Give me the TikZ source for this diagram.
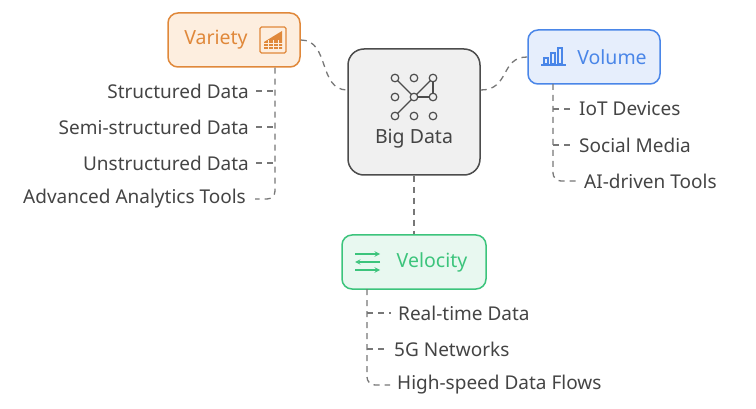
\documentclass[tikz,border=0pt]{standalone}
\usepackage{fontspec}
\setmainfont{Noto Sans}
\usepackage{xcolor}
\definecolor{varfill}{HTML}{FDEEDF}
\definecolor{vardraw}{HTML}{E0883A}
\definecolor{volfill}{HTML}{E6EEFC}
\definecolor{voldraw}{HTML}{4A86E8}
\definecolor{velfill}{HTML}{E8F8F0}
\definecolor{veldraw}{HTML}{3CC47C}
\definecolor{linkgray}{HTML}{777777}
\definecolor{txtgray}{HTML}{444444}

\begin{document}
\begin{tikzpicture}[x=1pt,y=-1pt,
  box/.style={draw,line width=1.5pt,rounded corners=10pt,minimum height=54pt,inner sep=0pt},
  link/.style={draw=linkgray,line width=1.3pt,dash pattern=on 6pt off 5pt},
  item/.style={text=txtgray,font=\fontsize{19}{22}\selectfont,inner sep=1pt}]
\useasboundingbox (0,0) rectangle (756,409);

% boxes
\node[box,fill=varfill,draw=vardraw,minimum width=132pt] (variety) at (234,40) {};
\node[box,fill=black!6,draw=black!70,minimum width=132pt,minimum height=126pt,rounded corners=16pt] (big) at (414,112) {};
\node[box,fill=volfill,draw=voldraw,minimum width=132pt] (volume) at (594,57) {};
\node[box,fill=velfill,draw=veldraw,minimum width=144pt] (velocity) at (414,262) {};

\node[text=vardraw,font=\fontsize{19.5}{22}\selectfont] (varlbl) at (216,40) {Variety};
\node[text=voldraw,font=\fontsize{19.5}{22}\selectfont] (vollbl) at (612,57) {Volume};
\node[text=veldraw,font=\fontsize{19.5}{22}\selectfont] (vellbl) at (432,262) {Velocity};
\node[text=txtgray,font=\fontsize{19.5}{22}\selectfont] (biglbl) at (414,139) {Big Data};

% icons
\begin{scope}[vardraw,line width=1.2pt]
  \draw[rounded corners=1.5pt] (260,27) rectangle (286,53);
  \fill (264,42) -- (282,31) -- (282,49) -- (264,49) -- cycle;
  \foreach \x in {268,273,278} \draw[varfill,line width=0.8pt] (\x,40) -- (\x,50);
  \foreach \y in {43,46} \draw[varfill,line width=0.8pt] (263,\y) -- (283,\y);
\end{scope}
\begin{scope}[voldraw,line width=1.2pt]
  \draw (541,65) -- (566,65);
  \draw (544,64) rectangle (548,58);
  \draw (551,64) rectangle (555,53);
  \draw (558,64) rectangle (562,48);
\end{scope}
\begin{scope}[veldraw,line width=1.4pt,->,>=stealth]
  \draw (355,254) -- (380,254);
  \draw (380,262) -- (355,262);
  \draw (355,270) -- (380,270);
\end{scope}
\begin{scope}[black!70,line width=1.2pt]
  \foreach \x in {395,414,433} \foreach \y in {78,97,116}
    \draw (\x,\y) circle (3.8pt);
  \draw (397.5,80.5) -- (411.5,94.5);
  \draw (397.5,113.5) -- (411.5,99.5);
  \draw (416.5,94.5) -- (430.5,80.5);
  \draw (417.6,97) -- (429.4,97);
  \draw (433,81.6) -- (433,93.4);
\end{scope}

% main links
\draw[link] (variety.east) .. controls (330,40) and (318,90) .. (big.west |- 0,90);
\draw[link] (big.east |- 0,90) .. controls (510,90) and (500,57) .. (volume.west);
\draw[link] (big.south) -- (velocity.north);

% variety items
\node[item,anchor=east] (v1) at (250,91) {Structured Data};
\node[item,anchor=east] (v2) at (250,127) {Semi-structured Data};
\node[item,anchor=east] (v3) at (250,163) {Unstructured Data};
\node[item,anchor=east] (v4) at (247,199) {Advanced Analytics Tools};
\draw[link,rounded corners=8pt] (variety.south -| 275,0) -- (275,199) -- ([xshift=8pt]v4.east);
\foreach \n in {v1,v2,v3} \draw[link] ([xshift=6pt]\n.east) -- (\n.east -| 275,0);

% volume items
\node[item,anchor=west] (o1) at (578,109) {IoT Devices};
\node[item,anchor=west] (o2) at (578,145) {Social Media};
\node[item,anchor=west] (o3) at (583,181) {AI-driven Tools};
\draw[link,rounded corners=8pt] (553,84) -- (553,181) -- ([xshift=-6pt]o3.west);
\foreach \n in {o1,o2} \draw[link] (553,0 |- \n.west) -- ([xshift=-6pt]\n.west);

% velocity items
\node[item,anchor=west] (e1) at (397,313) {Real-time Data};
\node[item,anchor=west] (e2) at (393,349) {5G Networks};
\node[item,anchor=west] (e3) at (396,385) {High-speed Data Flows};
\draw[link,rounded corners=8pt] (367,289) -- (367,385) -- ([xshift=-6pt]e3.west);
\foreach \n in {e1,e2} \draw[link] (367,0 |- \n.west) -- ([xshift=-6pt]\n.west);
\end{tikzpicture}
\end{document}
